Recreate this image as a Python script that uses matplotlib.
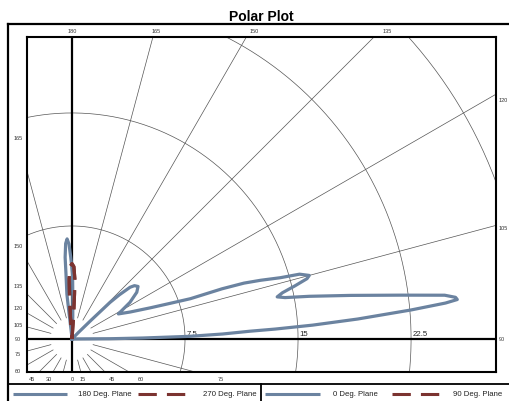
import numpy as np
import matplotlib.pyplot as plt

plt.rcParams['font.family'] = ['Liberation Sans', 'DejaVu Sans']

# Pattern data (angle in degrees as labelled on the chart, radius)
ANG_0 = [90, 90.4, 90.8, 91.3, 91.9, 92.5, 92.8, 93.3, 94.0, 94.9, 95.5, 95.85, 96.2, 96.7,
         97.6, 98.9, 100.2, 101.0, 101.6, 102.4, 103.4, 104.4, 105.0, 105.9, 106.4, 107.3,
         108.0, 108.5, 108.8, 110.0, 111.7, 114.9, 118.4, 122.3, 125.8, 128.5, 130.5, 131.7,
         133.0, 133.9, 134.6, 135.5, 138.0]
R_0 = [0, 2.5, 4.7, 7.8, 10.0, 11.8, 13.5, 16.0, 19.0, 22.6, 24.9, 25.7, 25.6, 24.9,
       22.0, 18.7, 16.0, 14.4, 13.9, 14.3, 15.2, 16.1, 16.3, 15.7, 14.4, 13.1,
       12.0, 10.5, 8.3, 6.9, 5.6, 4.25, 3.5, 4.55, 5.3, 5.6, 5.45, 5.16,
       4.3, 3.5, 1.7, 0.6, 0]

ANG_180 = [176.5, 178.0, 179.0, 179.5, 180.9, 181.8, 182.8, 183.8, 184.8, 185.3, 186.5, 186.5, 185.0, 180.0]
R_180 = [0, 1.5, 3.0, 4.3, 5.44, 6.3, 6.65, 6.35, 5.44, 4.3, 3.0, 1.5, 0.3, 0]

ANG_270 = [174, 176, 176.8, 177.3, 178.5, 180, 181.5, 182.7, 183.2, 184, 186]
R_270 = [0, 1.5, 3.0, 4.0, 4.8, 5.0, 4.8, 4.0, 3.0, 1.5, 0]

ANG_90 = [174, 176, 176.8, 177.3, 178.5, 180, 181.5, 182.7, 183.2, 184, 186]
R_90 = [0, 1.5, 3.0, 4.0, 4.8, 5.0, 4.8, 4.0, 3.0, 1.5, 0]

RINGS = [7.5, 15, 22.5, 30]
RING_LABELS = ['7.5', '15', '22.5']
SPOKES = np.arange(0, 360, 15)

TOP_TICKS = [180, 165, 150, 135]
RIGHT_TICKS = [120, 105, 90]
LEFT_TICKS = [165, 150, 135, 120, 105, 90, 75, 60]
BOTTOM_LEFT_TICKS = [45, 30]
BOTTOM_RIGHT_TICKS = [0, 15, 45, 60, 75]

BLUE = '#6b83a0'
RED = '#7b3330'
GRID = '#555555'


def to_xy(ang, r):
    a = np.radians(np.asarray(ang, dtype=float))
    r = np.asarray(r, dtype=float)
    return r * np.sin(a), -r * np.cos(a)


W, H = 509, 402
fig = plt.figure(figsize=(W / 100, H / 100), dpi=100)

# background layer in pixel coords: frame, title and legend
bg = fig.add_axes([0, 0, 1, 1])
bg.set_xlim(0, W)
bg.set_ylim(H, 0)
bg.axis('off')
bg.plot([8, 8], [25, H], color='black', lw=1.6)
bg.plot([8, W], [25, 25], color='black', lw=1.6)
bg.plot([8, W], [385, 385], color='black', lw=1.3)
bg.plot([261, 261], [385, H], color='black', lw=1.3)
bg.text(261, 17, 'Polar Plot', ha='center', va='center', fontsize=10, fontweight='bold')

dash = (0, (6, 3.3))
legend_items = [
    ('180 Deg. Plane', BLUE, '-', 13, 67, 78),
    ('270 Deg. Plane', RED, dash, 138, 188, 203),
    ('0 Deg. Plane', BLUE, '-', 265, 320, 333),
    ('90 Deg. Plane', RED, dash, 392, 440, 453),
]
for label, col, ls, x0, x1, tx in legend_items:
    bg.plot([x0, x1], [395, 395], color=col, lw=2.2, ls=ls, solid_capstyle='butt', dash_capstyle='butt')
    bg.text(tx, 395, label, ha='left', va='center', fontsize=5.6, color='#222222')

# main chart
S = 15.07  # px per unit
ax = fig.add_axes([27 / W, (H - 373) / H, 469 / W, 335 / H])
ax.set_xlim(-45 / S, 424 / S)
ax.set_ylim(-33 / S, 302 / S)
ax.set_facecolor('none')
ax.set_xticks([])
ax.set_yticks([])
for sp in ax.spines.values():
    sp.set_linewidth(1.5)

t = np.linspace(0, 360, 721)
for rr in RINGS:
    x, y = to_xy(t, np.full_like(t, rr))
    ax.plot(x, y, color=GRID, lw=0.5, zorder=1)
for a in SPOKES:
    x, y = to_xy([a, a], [1.45, 60])
    ax.plot(x, y, color=GRID, lw=0.5, zorder=1)

ax.axhline(0, color='black', lw=1.6, zorder=2)
ax.axvline(0, color='black', lw=1.6, zorder=2)

for lab, rr in zip(RING_LABELS, RINGS):
    ax.text(rr + 0.1, 0.12, lab, ha='left', va='bottom', fontsize=5.6, color='#222222')

tick_kw = dict(fontsize=4, color='#333333', clip_on=False)
for a in TOP_TICKS:
    ax.text(20.9 * np.tan(np.radians(180 - a)), 20.5, str(a), ha='center', va='center', **tick_kw)
for a in RIGHT_TICKS:
    ax.text(28.33, 27.54 * np.tan(np.radians(a - 90)), str(a), ha='left', va='center', **tick_kw)
for a in LEFT_TICKS:
    ax.text(-3.58, 3.58 * np.tan(np.radians(a - 90)), str(a), ha='center', va='center', **tick_kw)
for a in BOTTOM_LEFT_TICKS:
    ax.text(-2.65 * np.tan(np.radians(a)), -2.65, str(a), ha='center', va='center', **tick_kw)
for a in BOTTOM_RIGHT_TICKS:
    ax.text(2.65 * np.tan(np.radians(a)), -2.65, str(a), ha='center', va='center', **tick_kw)

ax.plot(*to_xy(ANG_0, R_0), color=BLUE, lw=2.3, solid_joinstyle='round', zorder=3, label='0 Deg. Plane')
ax.plot(*to_xy(ANG_180, R_180), color=BLUE, lw=2.3, solid_joinstyle='round', zorder=3, label='180 Deg. Plane')
ax.plot(*to_xy(ANG_90, R_90), color=RED, lw=2.3, ls=dash, zorder=4, label='90 Deg. Plane')
ax.plot(*to_xy(ANG_270, R_270), color=RED, lw=2.3, ls=dash, zorder=4, label='270 Deg. Plane')

fig.savefig('out.png', dpi=100)
